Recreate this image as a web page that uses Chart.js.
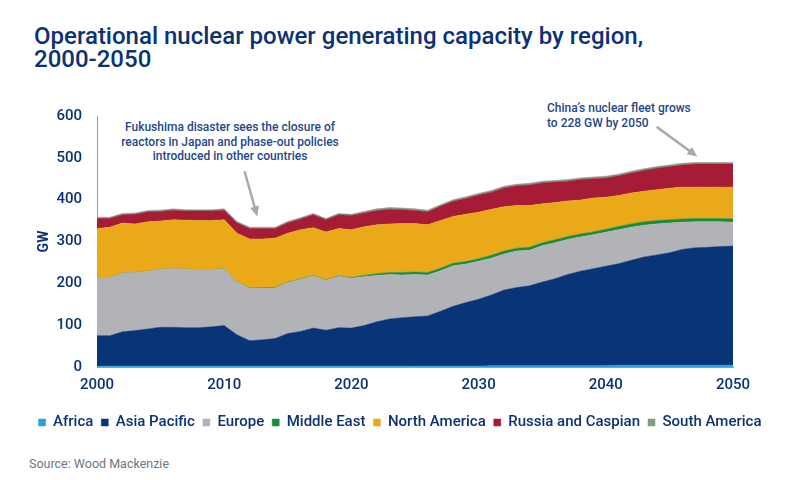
<!DOCTYPE html>
<html>
<head>
<meta charset="utf-8">
<script src="https://cdn.jsdelivr.net/npm/chart.js@4"></script>
<style>
  body { margin: 0; width: 800px; height: 480px; background: #fff; font-family: Roboto, "Noto Sans", sans-serif; position: relative; overflow: hidden; }
  #title { position: absolute; left: 34px; top: 25px; font-size: 24px; line-height: 23px; font-weight: 500; color: #0b3275; }
  .note { position: absolute; font-size: 12px; line-height: 14.5px; font-weight: 500; color: #23478a; }
  #note1 { left: 110px; top: 120px; width: 240px; text-align: center; }
  #note2 { left: 547px; top: 101px; }
  #source { position: absolute; left: 29px; top: 456px; font-size: 12.5px; color: #6f7582; }
  #wrap { position: absolute; left: 0; top: 92px; width: 800px; height: 348px; }
</style>
</head>
<body>
<div id="title">Operational nuclear power generating capacity by region,<br>2000-2050</div>
<div class="note" id="note1">Fukushima disaster sees the closure of<br>reactors in Japan and phase-out policies<br>introduced in other countries</div>
<div class="note" id="note2">China’s nuclear fleet grows<br>to 228 GW by 2050</div>
<div id="wrap"><canvas id="chart"></canvas></div>
<div id="source">Source: Wood Mackenzie</div>
<script>
// years 2000..2050
const years = [];
for (let y = 2000; y <= 2050; y++) years.push(y);

const africa = [2,2,2,2,2,2,2,2,2,2, 2,2,2,2,2,2,2,2,2,2, 2,2,2,2,2,2,2,2,2,2, 2,3,3,3,3,3,3,3,3,3, 3,4,4,4,4,4,4,4,4,4, 4];
const asiaPacific = [73,73,82,85,89,93,93,92,92,94, 97,75,61,63,66,78,83,91,86,92, 91,97,106,113,116,118,120,131,143,152, 160,169,181,187,191,200,208,218,226,232, 238,243,251,259,264,269,277,281,282,284, 285];
const europe = [139,139,141,139,138,139,140,140,139,137, 136,126,125,124,121,122,125,125,119,123, 119,117,111,106,102,101,98,97,97,92, 91,88,86,87,85,87,86,84,82,81, 81,81,79,76,74,71,65,62,61,59, 57];
const middleEast = [0,0,0,0,0,0,0,0,0,0, 0,1,1,1,1,1,1,1,1,1, 2,3,4,5,6,6,6,6,6,6, 6,7,7,7,7,7,7,7,7,7, 7,8,8,8,8,8,8,8,8,8, 8];
const northAmerica = [117,120,119,116,118,115,117,117,117,117, 117,116,117,116,118,117,117,114,115,113, 114,116,117,116,117,116,114,114,112,113, 111,110,106,102,100,93,89,85,81,81, 77,74,74,73,74,75,76,75,75,75, 76];
const russiaCaspian = [24,21,20,23,24,23,23,22,23,23, 23,25,25,25,23,25,26,31,29,33, 34,33,34,35,33,31,31,34,36,38, 41,41,45,47,49,50,49,47,49,46, 46,47,48,50,51,52,53,55,55,55, 55];
const southAmerica = [3,3,3,3,3,3,3,3,3,3, 3,3,3,3,3,3,3,3,3,3, 3,4,4,4,4,4,4,4,4,4, 4,4,4,4,4,4,4,4,4,4, 4,4,4,4,4,4,4,4,4,4, 4];

const seriesNames = ["Africa", "Asia Pacific", "Europe", "Middle East", "North America", "Russia and Caspian", "South America"];
const seriesData = [africa, asiaPacific, europe, middleEast, northAmerica, russiaCaspian, southAmerica];
const seriesColors = ["#27a3dc", "#0a3478", "#b2b3b7", "#1c8a3c", "#eaa918", "#a61c37", "#7f9c86"];

const yTicks = [0, 100, 200, 300, 400, 500, 600];
const xTickYears = [2000, 2010, 2020, 2030, 2040, 2050];

// arrows in data coordinates: [fromYear, fromGW, toYear, toGW]
const arrows = [
  [2011.6, 468, 2012.6, 360],
  [2044.0, 574, 2047.2, 503]
];

const navy = "#0b3275";
const tickFont = { family: "Roboto", size: 15, weight: "500" };

const arrowPlugin = {
  id: "arrows",
  afterDatasetsDraw(chart) {
    const ctx = chart.ctx;
    const xs = chart.scales.x;
    const ys = chart.scales.y;
    const px = v => xs.getPixelForValue(v - 2000);
    arrows.forEach(a => {
      const x1 = px(a[0]), y1 = ys.getPixelForValue(a[1]);
      const x2 = px(a[2]), y2 = ys.getPixelForValue(a[3]);
      const ang = Math.atan2(y2 - y1, x2 - x1);
      ctx.save();
      ctx.strokeStyle = "#a9a9a9";
      ctx.fillStyle = "#a9a9a9";
      ctx.lineWidth = 2.5;
      ctx.beginPath();
      ctx.moveTo(x1, y1);
      ctx.lineTo(x2 - 7 * Math.cos(ang), y2 - 7 * Math.sin(ang));
      ctx.stroke();
      ctx.beginPath();
      ctx.moveTo(x2, y2);
      ctx.lineTo(x2 - 10 * Math.cos(ang) + 4.5 * Math.sin(ang), y2 - 10 * Math.sin(ang) - 4.5 * Math.cos(ang));
      ctx.lineTo(x2 - 10 * Math.cos(ang) - 4.5 * Math.sin(ang), y2 - 10 * Math.sin(ang) + 4.5 * Math.cos(ang));
      ctx.closePath();
      ctx.fill();
      ctx.restore();
    });
  }
};

new Chart(document.getElementById("chart"), {
  type: "line",
  data: {
    labels: years,
    datasets: seriesNames.map((name, i) => ({
      label: name,
      data: seriesData[i],
      backgroundColor: seriesColors[i],
      borderColor: seriesColors[i],
      borderWidth: 0.5,
      pointRadius: 0,
      fill: i === 0 ? "origin" : "-1",
      tension: 0
    }))
  },
  options: {
    responsive: true,
    maintainAspectRatio: false,
    animation: false,
    layout: { padding: { left: 0, right: 0, top: 20, bottom: 0 } },
    plugins: {
      legend: {
        position: "bottom",
        labels: {
          boxWidth: 7,
          boxHeight: 7,
          padding: 8,
          color: navy,
          font: tickFont
        }
      },
      tooltip: { enabled: false }
    },
    scales: {
      x: {
        offset: false,
        grid: { display: false, drawTicks: false },
        border: { color: "#9a9a9a", width: 1 },
        afterFit: axis => { axis.height = 40; },
        ticks: {
          autoSkip: false,
          maxRotation: 0,
          padding: 9,
          color: navy,
          font: tickFont,
          callback: (v, i) => xTickYears.includes(years[i]) ? years[i] : ""
        }
      },
      y: {
        stacked: true,
        min: yTicks[0],
        max: yTicks[yTicks.length - 1],
        grid: { display: false, drawTicks: false },
        border: { color: "#9a9a9a", width: 1 },
        afterBuildTicks: axis => { axis.ticks = yTicks.map(v => ({ value: v })); },
        afterFit: axis => { axis.width = 97; },
        ticks: {
          padding: 15,
          color: navy,
          font: tickFont
        },
        title: {
          display: true,
          text: "GW",
          color: navy,
          padding: { top: 36, bottom: 0 },
          font: { family: "Roboto", size: 14, weight: "bold" }
        }
      },
      yRight: {
        position: "right",
        display: true,
        grid: { display: false, drawTicks: false },
        border: { display: false },
        ticks: { display: false },
        afterFit: axis => { axis.width = 67; }
      }
    }
  },
  plugins: [arrowPlugin]
});
</script>
</body>
</html>
